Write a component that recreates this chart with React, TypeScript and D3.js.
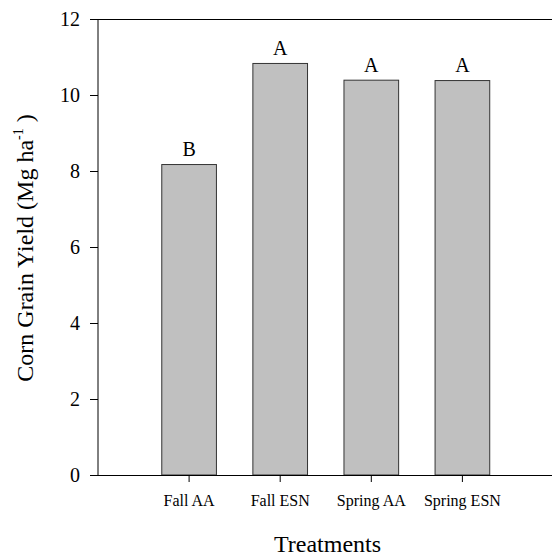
import React from "react";
import { scaleLinear, scalePoint } from "d3";

const treatments = ["Fall AA", "Fall ESN", "Spring AA", "Spring ESN"];
const yields = [8.17, 10.83, 10.39, 10.38];
const letters = ["B", "A", "A", "A"];
const yTicks = [0, 2, 4, 6, 8, 10, 12];

const W = 552;
const H = 556;
const FONT = "'Liberation Serif', 'Times New Roman', serif";

export default function App() {
  const left = 98;
  const top = 19;
  const bottom = 475;

  const y = scaleLinear().domain([0, 12]).range([bottom, top]);
  // categories sit at 1..4 on a 0..5 axis
  const x = scalePoint<string>().domain(treatments).range([left, 553.5]).padding(1);
  const barW = x.step() * 0.6;

  return (
    <svg width={W} height={H} style={{ position: "absolute", left: 0, top: 0 }} fontFamily={FONT}>
      {/* bars */}
      {treatments.map((t, i) => (
        <g key={t}>
          <rect
            x={x(t)! - barW / 2}
            y={y(yields[i])}
            width={barW}
            height={y(0) - y(yields[i])}
            fill="#c0c0c0"
            stroke="#333"
            strokeWidth={1}
          />
          <text x={x(t)} y={y(yields[i]) - 8.5} textAnchor="middle" fontSize={20} fill="#000">
            {letters[i]}
          </text>
        </g>
      ))}

      {/* y axis */}
      <line x1={left} x2={left} y1={top} y2={bottom} stroke="#000" />
      <line x1={90} x2={W} y1={top + 0.5} y2={top + 0.5} stroke="#000" />
      <line x1={90} x2={W} y1={bottom + 0.5} y2={bottom + 0.5} stroke="#000" />
      {yTicks.map((v) => (
        <g key={v}>
          <line x1={90} x2={left} y1={y(v) + 0.5} y2={y(v) + 0.5} stroke="#000" />
          <text x={80} y={y(v)} dy="0.35em" textAnchor="end" fontSize={20} fill="#000">
            {v}
          </text>
        </g>
      ))}

      {/* x axis */}
      {treatments.map((t) => (
        <g key={t}>
          <line x1={x(t)} x2={x(t)} y1={bottom} y2={bottom + 7} stroke="#000" />
          <text x={x(t)} y={505.5} textAnchor="middle" fontSize={16} fill="#000">
            {t}
          </text>
        </g>
      ))}

      <text x={327.5} y={551.5} textAnchor="middle" fontSize={24} fill="#000">
        Treatments
      </text>

      <text
        transform={`translate(33, 248) rotate(-90)`}
        textAnchor="middle"
        fontSize={24}
        fill="#000"
      >
        Corn Grain Yield (Mg ha
        <tspan fontSize={14} dy={-10}>-1</tspan>
        <tspan dy={10}> )</tspan>
      </text>
    </svg>
  );
}
